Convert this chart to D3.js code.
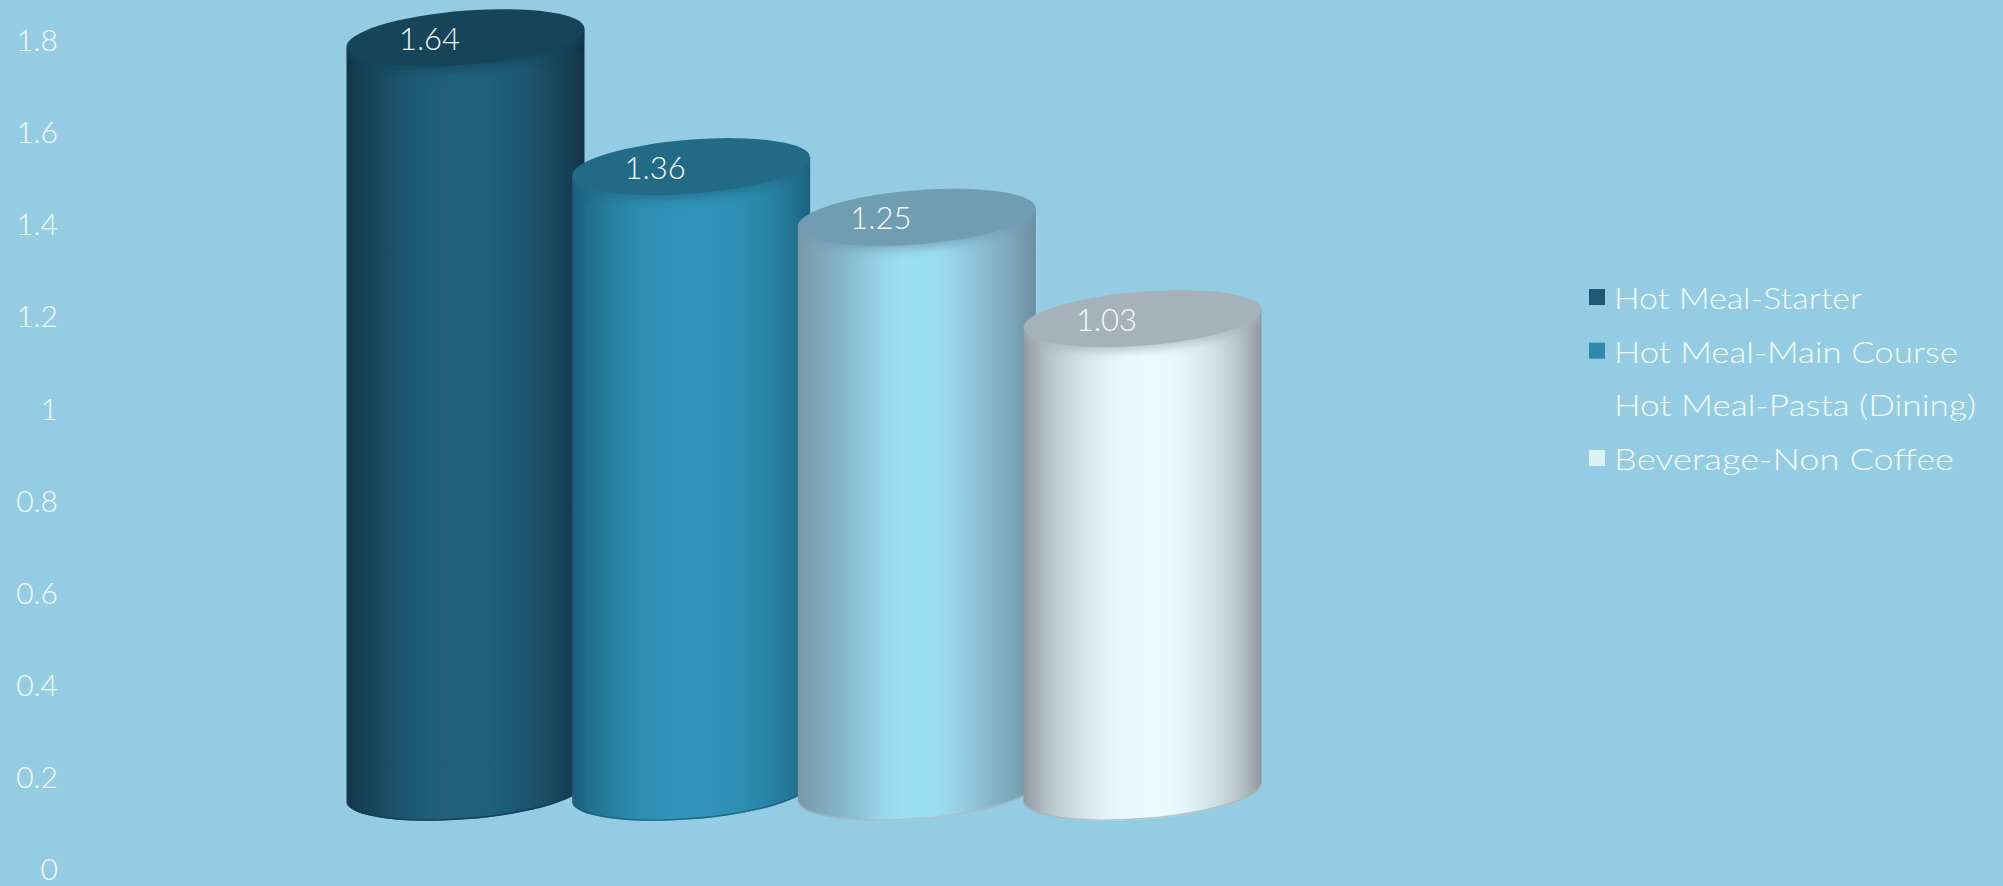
<!DOCTYPE html>
<html>
<head>
<meta charset="utf-8">
<script src="https://cdn.jsdelivr.net/npm/d3@7"></script>
<style>
  html, body { margin: 0; padding: 0; background: #94cde3; }
  svg { display: block; }
  text { font-family: Lato, "Open Sans", sans-serif; font-weight: 300; fill: #f4fbfd; }
</style>
</head>
<body>
<svg width="2003" height="886"></svg>
<script>
const categories = ['Hot Meal-Starter', 'Hot Meal-Main Course', 'Hot Meal-Pasta (Dining)', 'Beverage-Non Coffee'];
const values = [1.64, 1.36, 1.25, 1.03];
const labels = ['1.64', '1.36', '1.25', '1.03'];
const yTicks = [0, 0.2, 0.4, 0.6, 0.8, 1, 1.2, 1.4, 1.6, 1.8];

// shading across each cylinder, left edge to right edge
const sideStops = [
  ['#12364a', '#194a60', '#1d5870', '#20607a', '#20607a', '#20607a', '#1d566e', '#194a60', '#113446'],
  ['#1a5f7c', '#267b9c', '#2c8bae', '#3093b8', '#3093b8', '#3093b8', '#2c8bae', '#26809f', '#1b6280'],
  ['#7a99a6', '#80adc2', '#8cc0d5', '#9bdcf0', '#9ddff3', '#9bdcf0', '#8dc1d7', '#81adc2', '#6a8f9f'],
  ['#8f9a9f', '#bfcdd3', '#d3e3e9', '#e6fafe', '#e8fcff', '#e8fcff', '#d9eaee', '#c6d4d8', '#8f999d']
];
const topColors = ['#17445a', '#226a86', '#6f9db1', '#a6b2b9'];
const rimColors = ['#123a4e', '#1c5f7c', '#a9bcc4', '#aab4b8'];
const legendColors = ['#1f5a73', '#2e89ad', '#94cde3', '#dcf0f6'];
const legendWidths = [248, 344, 362, 340];

const svg = d3.select('svg');

// value scale, same for the axis and the bars
const y = d3.scaleLinear().domain([0, 1.8]).range([870, 41]);
const x = d3.scalePoint().domain(categories).range([465.5, 1142.5]);

const floorShift = 77;   // the 3d floor sits above the zero tick
const halfW = 119;       // horizontal half width of a cylinder
const rx = 119.4, ry = 27, tilt = -4.56, skew = 9;

const lowerArc = d => {
  const cx = x(d);
  const base = y(0) - floorShift;
  return `M${cx - halfW},${base + skew} A${rx},${ry} ${tilt} 0 0 ${cx + halfW},${base - skew}`;
};

const sidePath = (d, i) => {
  const cx = x(d);
  const top = y(values[i]) - floorShift;
  return `M${cx - halfW},${top + skew} L` + lowerArc(d).slice(1) +
    ` L${cx + halfW},${top - skew}` +
    ` A${rx},${ry} ${tilt} 0 1 ${cx - halfW},${top + skew} Z`;
};

const defs = svg.append('defs');
sideStops.forEach((stops, i) => {
  const grad = defs.append('linearGradient').attr('id', 'side' + i);
  const shade = d3.interpolateRgbBasis(stops);
  d3.range(0, 1.001, 1 / 30).forEach(t => {
    grad.append('stop').attr('offset', t).attr('stop-color', shade(t));
  });
});
defs.append('filter').attr('id', 'soft')
  .attr('x', '-5%').attr('y', '-5%').attr('width', '110%').attr('height', '110%')
  .append('feGaussianBlur').attr('stdDeviation', 0.6);
defs.append('filter').attr('id', 'shade')
  .attr('x', '-20%').attr('y', '-40%').attr('width', '140%').attr('height', '180%')
  .append('feGaussianBlur').attr('stdDeviation', 5);
categories.forEach((d, i) => {
  defs.append('clipPath').attr('id', 'clip' + i).append('path').attr('d', sidePath(d, i));
});

svg.append('g')
  .attr('transform', 'translate(58,0)')
  .call(d3.axisLeft(y).tickValues(yTicks).tickSize(0).tickPadding(0).tickFormat(d => String(d)))
  .call(g => g.select('.domain').remove())
  .call(g => g.selectAll('text').attr('font-size', 30).style('font-family', 'Lato, sans-serif'));

const bars = svg.selectAll('g.bar')
  .data(categories)
  .enter()
  .append('g')
  .attr('class', 'bar');

const shapes = bars.append('g').attr('filter', 'url(#soft)');

shapes.append('path')
  .attr('fill', (d, i) => `url(#side${i})`)
  .attr('d', sidePath);

// the body darkens just under the lid and along the lower rim
const inner = shapes.append('g').attr('clip-path', (d, i) => `url(#clip${i})`);

inner.append('ellipse')
  .attr('rx', rx)
  .attr('ry', ry)
  .attr('fill', (d, i) => topColors[i])
  .attr('opacity', 0.75)
  .attr('filter', 'url(#shade)')
  .attr('transform', (d, i) => `translate(${x(d)},${y(values[i]) - floorShift + 4}) rotate(${tilt})`);

inner.append('path')
  .attr('d', lowerArc)
  .attr('fill', 'none')
  .attr('stroke', (d, i) => rimColors[i])
  .attr('stroke-width', 3)
  .attr('opacity', 0.8);

shapes.append('ellipse')
  .attr('rx', rx)
  .attr('ry', ry)
  .attr('fill', (d, i) => topColors[i])
  .attr('transform', (d, i) => `translate(${x(d)},${y(values[i]) - floorShift}) rotate(${tilt})`);

bars.append('text')
  .attr('x', d => x(d) - 36)
  .attr('y', (d, i) => y(values[i]) - floorShift + 12)
  .attr('text-anchor', 'middle')
  .attr('font-size', 31)
  .text((d, i) => labels[i]);

const legend = svg.append('g').attr('transform', 'translate(1589,0)');
const legendY = d3.scalePoint().domain(categories).range([297, 458]);

legend.selectAll('rect')
  .data(categories)
  .enter()
  .append('rect')
  .attr('x', 0)
  .attr('y', d => legendY(d) - 8)
  .attr('width', 16)
  .attr('height', 16)
  .attr('fill', (d, i) => legendColors[i]);

legend.selectAll('text')
  .data(categories)
  .enter()
  .append('text')
  .attr('x', 25)
  .attr('y', d => legendY(d) + 12)
  .attr('font-size', 30)
  .attr('textLength', (d, i) => legendWidths[i])
  .attr('lengthAdjust', 'spacingAndGlyphs')
  .text(d => d);
</script>
</body>
</html>
